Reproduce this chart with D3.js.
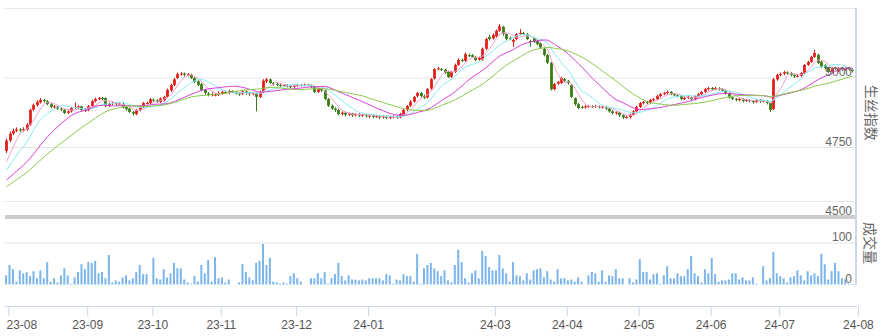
<!DOCTYPE html>
<html><head><meta charset="utf-8">
<script src="https://cdn.jsdelivr.net/npm/d3@7"></script>
<style>body{margin:0;background:#fff}svg{display:block}</style>
</head><body><svg id="c" width="888" height="336"></svg>
<script>
const monthLabels = ["23-08","23-09","23-10","23-11","23-12","24-01","24-03","24-04","24-05","24-06","24-07","24-08"];
const monthStarts = [0,23,42,62,84,105,142,163,184,205,225,248];
const priceTicks = [4500,4750,5000];
const priceGrid = [4750,5000,5250];
const volumeTicks = [0,100];
const volumeGrid = [100,200];
const maPeriods = [5,10,20,30];
const maColors = ["#f2a1cf","#86ecf2","#d93fd9","#8cc94a"];
// closes before the first visible day (feed the moving averages)
const preCloses = [4540,4548,4555,4560,4552,4558,4565,4570,4572,4590,4585,4590,4598,4592,4600,4596,4602,4598,4604,4605,4615,4625,4640,4650,4665,4660,4672,4690,4698];
const opens = [
4738,4775,4800,4810,4815,4812,4815,4832,4886,4902,4912,4921,4917,4906,4896,4897,4890,4885,4875,4880,4893,4896,4898,
4885,4884,4899,4917,4924,4928,4928,4900,4908,4910,4906,4906,4895,4890,4878,4870,4885,4896,4910,
4910,4922,4920,4914,4920,4932,4955,4975,5000,5014,5016,5012,5012,5000,4988,4978,4957,4944,4938,4940,
4940,4946,4950,4946,4953,4950,4944,4942,4952,4946,4942,4944,4932,4950,4988,4995,4982,4978,4975,4972,4975,4971,
4968,4972,4975,4973,4976,4974,4970,4950,4960,4955,4925,4900,4890,4885,4870,4875,4868,4872,4866,4870,4865,
4868,4862,4866,4860,4864,4858,4862,4857,4860,4862,4858,4868,4885,4900,4915,4935,4946,4935,4930,4962,4998,5032,
5032,5030,5022,5004,5022,5047,5065,5062,5082,5082,5076,5066,5066,5105,5148,
5142,5150,5170,5184,5158,5144,5130,5140,5158,5162,5158,5133,5144,5133,5126,5105,5083,5055,4960,4980,4982,
4996,4990,4975,4928,4906,4896,4894,4897,4899,4896,4899,4895,4897,4890,4880,4874,4876,4866,4858,4860,4868,
4880,4896,4910,4914,4910,4921,4924,4935,4942,4946,4950,4942,4938,4935,4925,4928,4930,4924,4935,4942,4950,
4960,4964,4960,4964,4960,4955,4945,4930,4925,4921,4924,4918,4921,4917,4914,4920,4916,4918,4910,4888,
4995,5011,5016,5020,5018,5011,5006,5008,5018,5047,5058,5076,5083,5058,5047,5036,5022,5036,5025,5036,5030,5036,5030];
const closes = [
4775,4800,4810,4815,4812,4816,4832,4885,4903,4914,4921,4917,4906,4896,4898,4890,4886,4874,4880,4892,4896,4898,4885,
4886,4899,4917,4924,4928,4926,4900,4908,4910,4906,4908,4894,4888,4878,4872,4885,4896,4910,4910,
4924,4920,4914,4926,4932,4957,4975,4995,5014,5016,5012,5014,5000,4986,4975,4957,4946,4939,4942,4940,
4946,4950,4946,4953,4950,4944,4942,4952,4946,4942,4946,4932,4950,4990,4995,4982,4978,4975,4972,4975,4971,4968,
4972,4975,4973,4976,4974,4968,4950,4960,4955,4925,4900,4890,4885,4870,4875,4868,4872,4866,4870,4865,4868,
4862,4866,4860,4864,4858,4862,4857,4860,4862,4858,4870,4885,4899,4915,4932,4946,4935,4928,4960,4996,5032,5034,
5030,5018,5004,5022,5047,5065,5062,5086,5080,5076,5065,5072,5105,5140,5140,
5155,5170,5186,5158,5140,5140,5137,5158,5162,5160,5140,5130,5130,5122,5110,5083,5055,4960,4978,4986,5000,
4990,4982,4932,4906,4892,4895,4898,4899,4896,4899,4895,4897,4890,4880,4874,4876,4866,4858,4860,4868,4880,
4896,4910,4914,4910,4921,4924,4935,4942,4946,4950,4942,4938,4935,4925,4928,4932,4924,4935,4942,4950,4960,
4964,4960,4964,4960,4955,4945,4930,4925,4921,4924,4918,4921,4917,4914,4920,4916,4918,4910,4885,4995,
5011,5014,5022,5018,5011,5006,5008,5018,5047,5058,5076,5090,5054,5040,5036,5022,5036,5033,5036,5029,5033,5029,5026];
const highs = [
4782,4808,4818,4822,4820,4823,4838,4890,4908,4920,4928,4925,4920,4910,4903,4900,4894,4888,4885,4896,4912,4902,4900,
4890,4903,4921,4930,4932,4932,4930,4912,4915,4914,4912,4910,4898,4893,4882,4888,4900,4914,4915,
4928,4926,4924,4930,4936,4962,4980,5000,5020,5022,5020,5018,5016,5003,4992,4982,4960,4950,4948,4946,
4952,4955,4954,4958,4956,4953,4948,4956,4955,4950,4950,4948,4954,4996,5000,4998,4986,4982,4980,4978,4978,4975,
4976,4980,4978,4980,4979,4977,4972,4964,4963,4958,4928,4905,4894,4890,4880,4878,4876,4875,4874,4873,4872,
4872,4870,4869,4868,4867,4866,4865,4864,4866,4866,4875,4890,4903,4920,4936,4950,4950,4940,4964,5000,5036,5040,
5036,5034,5026,5026,5052,5070,5070,5092,5088,5086,5080,5076,5110,5145,5155,
5160,5175,5194,5187,5160,5148,5142,5162,5176,5166,5162,5137,5148,5137,5130,5108,5086,5058,4982,4990,5004,
5000,4993,4978,4930,4910,4900,4902,4903,4902,4903,4902,4901,4900,4893,4884,4880,4879,4870,4864,4872,4885,
4900,4914,4918,4918,4925,4928,4940,4946,4950,4955,4953,4946,4942,4938,4932,4936,4934,4938,4946,4954,4964,
4968,4968,4968,4967,4963,4958,4948,4934,4928,4928,4927,4925,4924,4920,4924,4924,4922,4921,4912,5000,
5016,5020,5026,5024,5022,5016,5012,5022,5050,5062,5080,5101,5088,5062,5050,5040,5040,5040,5040,5040,5038,5040,5034];
const lows = [
4730,4770,4795,4805,4806,4808,4810,4828,4880,4898,4908,4912,4902,4890,4890,4885,4880,4870,4870,4876,4889,4890,4880,
4878,4880,4895,4912,4920,4920,4895,4896,4903,4900,4902,4890,4883,4874,4865,4866,4880,4892,4905,
4906,4915,4910,4910,4916,4928,4950,4970,4996,5008,5006,5006,4996,4982,4970,4952,4940,4934,4934,4934,
4935,4940,4942,4942,4946,4940,4936,4938,4940,4936,4938,4880,4928,4946,4982,4978,4972,4970,4968,4968,4966,4964,
4964,4968,4969,4970,4970,4964,4946,4946,4950,4920,4896,4885,4878,4866,4865,4862,4864,4860,4862,4860,4860,
4858,4856,4855,4856,4852,4854,4852,4852,4855,4853,4855,4864,4880,4896,4912,4930,4930,4924,4926,4958,4994,5028,
5025,5014,5000,5000,5018,5044,5058,5058,5076,5072,5060,5062,5062,5100,5135,
5138,5146,5166,5152,5136,5135,5112,5136,5155,5155,5136,5112,5126,5118,5105,5078,5050,4955,4955,4976,4978,
4985,4976,4928,4900,4888,4890,4890,4893,4892,4892,4890,4890,4884,4875,4868,4868,4860,4852,4854,4854,4864,
4876,4892,4905,4905,4906,4916,4920,4930,4938,4942,4938,4934,4930,4920,4920,4924,4920,4920,4930,4938,4946,
4955,4955,4956,4955,4950,4940,4926,4920,4916,4916,4912,4914,4912,4908,4910,4910,4912,4905,4878,4885,
4990,5006,5010,5012,5006,5000,5002,5004,5014,5043,5054,5072,5050,5036,5030,5018,5018,5028,5022,5025,5026,5025,5020];
const volumes = [
22,47,37,7,34,27,30,20,32,15, 34,15,54,7,15,5,22,39,22,2, 17,30,49,37,54,52,57,27,30,15,
71,5,10,7,17,22,10,15,30,47, 25,25,0,64,15,12,37,17,27,52, 39,39,12,5,2,20,7,47,27,59,
7,66,15,17,5,12,0,0,5,49, 30,17,10,52,57,98,47,64,7,5, 2,5,2,20,27,15,7,0,0,15,
15,27,15,30,2,15,25,52,20,10, 22,12,12,10,12,10,15,15,15,15, 10,25,22,2,12,10,25,20,20,7,
74,2,39,47,52,39,32,20,34,10, 5,47,84,54,15,5,27,34,15,81, 69,42,34,34,71,39,27,7,54,22,
20,10,27,12,34,37,39,17,32,12, 7,37,15,15,10,12,7,17,7,0, 22,30,27,7,34,7,22,20,37,15,
15,0,15,5,12,61,30,30,12,25, 27,2,22,44,15,15,27,20,20,37, 69,27,20,5,37,27,64,25,7,10,
10,12,27,27,12,17,10,10,17,2, 0,44,10,15,79,27,20,15,5,17, 20,34,22,10,32,22,27,20,74,49,
12,32,52,32,15,12,2,1];

const N = closes.length;
const svg = d3.select("#c");
const L = 5, R = 856;
const yP = d3.scaleLinear().domain([4500,5250]).range([217,8.5]);
const yV = d3.scaleLinear().domain([0,200]).range([284.5,201.5]);
const xl = d3.scaleLinear().domain([0,N]).range([5,854.5]);
const cx = i => xl(i + 0.32);
const font = "'Liberation Sans', Arial, sans-serif";

// grid lines
svg.append("g").selectAll("line").data(priceGrid).join("line")
  .attr("x1",L).attr("x2",R).attr("y1",d=>yP(d)).attr("y2",d=>yP(d))
  .attr("stroke","#e6e6e6").attr("stroke-width",1);
svg.append("g").selectAll("line").data(volumeGrid).join("line")
  .attr("x1",L).attr("x2",R).attr("y1",d=>yV(d)).attr("y2",d=>yV(d))
  .attr("stroke","#e6e6e6").attr("stroke-width",1);
// separator bar
svg.append("rect").attr("x",L).attr("width",R-L).attr("y",yP(4500)-2).attr("height",4).attr("fill","#cccccc");

// volume bars
svg.append("g").selectAll("rect").data(volumes).join("rect")
  .attr("x",(d,i)=>cx(i)-1).attr("width",2)
  .attr("y",d=>yV(d)).attr("height",d=>yV(0)-yV(d))
  .attr("fill","#7cb5ec");

// candles
const idx = d3.range(N);
const up = "#e41e1a", down = "#3a7d12";
const cg = svg.append("g");
cg.selectAll("line").data(idx).join("line")
  .attr("x1",i=>Math.round(cx(i))+0.5).attr("x2",i=>Math.round(cx(i))+0.5)
  .attr("y1",i=>yP(highs[i])).attr("y2",i=>yP(lows[i]))
  .attr("stroke",i=>closes[i]>=opens[i]?up:down).attr("stroke-width",1);
cg.selectAll("rect").data(idx).join("rect")
  .attr("x",i=>Math.round(cx(i))+0.5-1.4).attr("width",2.8)
  .attr("y",i=>yP(Math.max(opens[i],closes[i])))
  .attr("height",i=>Math.max(1,Math.abs(yP(opens[i])-yP(closes[i]))))
  .attr("fill",i=>closes[i]>=opens[i]?up:down);

// moving averages
const all = preCloses.concat(closes);
const P = preCloses.length;
maPeriods.forEach((p,k)=>{
  const vals = idx.map(i=>d3.mean(all.slice(P+i-p+1,P+i+1)));
  svg.append("path").datum(vals)
    .attr("d",d3.line().x((d,i)=>cx(i)+0.5).y(d=>yP(d)))
    .attr("fill","none").attr("stroke",maColors[k]).attr("stroke-width",1);
});

// y labels
svg.append("g").selectAll("text").data(priceTicks).join("text")
  .attr("x",852).attr("y",d=>yP(d)-2).attr("text-anchor","end")
  .attr("font-family",font).attr("font-size",12).attr("fill","#666").text(d=>d);
svg.append("g").selectAll("text").data(volumeTicks).join("text")
  .attr("x",852).attr("y",d=>yV(d)-2).attr("text-anchor","end")
  .attr("font-family",font).attr("font-size",12).attr("fill","#666").text(d=>d);

// right border
svg.append("line").attr("x1",R).attr("x2",R).attr("y1",yP(5250)-0.5).attr("y2",yV(0)+0.5)
  .attr("stroke","#ccd6eb").attr("stroke-width",2);

// titles
svg.append("text").attr("transform",`translate(872,${(yP(5250)+yP(4500))/2}) rotate(90)`)
  .attr("text-anchor","middle").attr("dominant-baseline","central")
  .attr("font-family","'Noto Sans CJK SC', sans-serif").attr("font-size",14).attr("fill","#666").text("生丝指数");
svg.append("text").attr("transform",`translate(871,${yV(100)}) rotate(90)`)
  .attr("text-anchor","middle").attr("dominant-baseline","central")
  .attr("font-family","'Noto Sans CJK SC', sans-serif").attr("font-size",14).attr("fill","#666").text("成交量");

// x axis
const xAxis = d3.axisBottom(xl).tickValues(monthStarts.map(s=>s+1))
  .tickFormat((d,i)=>monthLabels[i]).tickSize(10).tickPadding(4).tickSizeOuter(0);
const ax = svg.append("g").attr("transform","translate(0,306)").call(xAxis);
ax.select(".domain").attr("stroke","#ccd6eb").attr("d",`M${L},0.5H${R+1}`);
ax.selectAll(".tick line").attr("stroke","#ccd6eb");
ax.selectAll(".tick text").attr("font-family",font).attr("font-size",12).attr("fill","#555");
// first label is kept inside the plot's left edge
ax.selectAll(".tick text").filter((d,i)=>i===0)
  .attr("text-anchor","start").attr("x", L + 1 - xl(monthStarts[0]+1));
</script></body></html>
